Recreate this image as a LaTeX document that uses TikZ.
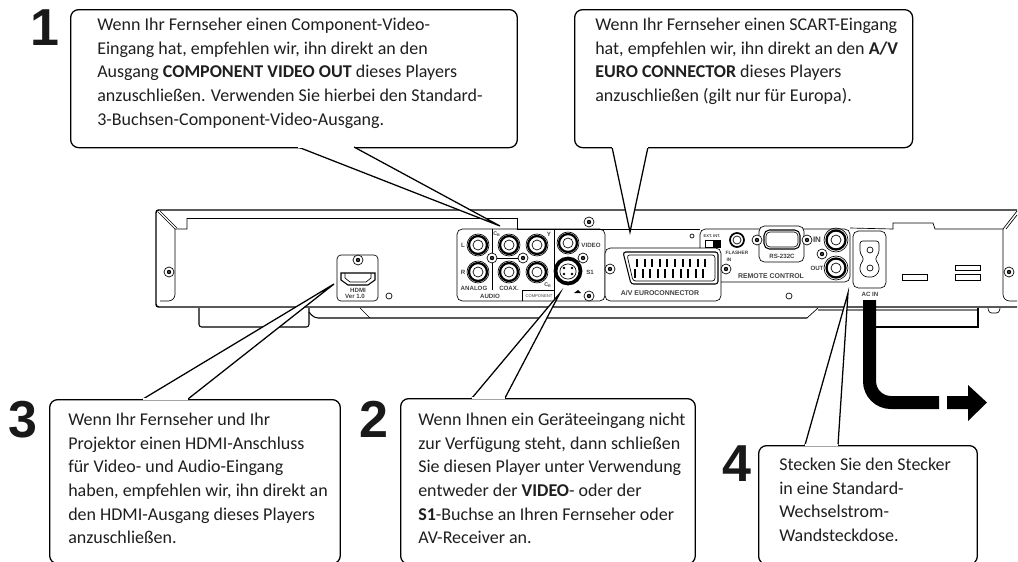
\documentclass[tikz,border=0pt]{standalone}
\usepackage{fontspec}
\setmainfont{Carlito}
\newfontfamily\arialfont{Liberation Sans}
\usepackage{tikz}
\usetikzlibrary{positioning}

\tikzset{
    msgbox/.style={draw, fill=white, line width=0.95pt, rounded corners=6pt, anchor=north west, inner sep=0pt},
    msgtext/.style={anchor=north west, align=left, inner sep=0pt, text=black!88, font=\fontsize{13.5}{17.7}\selectfont},
    stepno/.style={inner sep=0pt, text=black!90, font=\arialfont\bfseries\fontsize{39}{39}\selectfont},
    pointer/.style={draw, fill=white, line width=0.95pt, line join=miter},
    tinylabel/.style={inner sep=0pt, text=black!75, font=\arialfont\bfseries\fontsize{4.6}{5}\selectfont},
    chassis/.style={line width=0.8pt},
    thinline/.style={line width=0.5pt}
}

\begin{document}
\begin{tikzpicture}[x=0.75pt, y=-0.75pt]
    \useasboundingbox (0,0) rectangle (1018,561);

    % Chassis outline
    \draw[chassis, line width=1.1pt, rounded corners=2pt] (1017,210) -- (156,210) -- (156,307) -- (1017,307);
    \draw[thinline] (187,218) -- (517,218) -- (517,229) -- (700,229);
    \draw[thinline] (187,218) -- (187,229) -- (175,229) -- (158,212);
    \draw[thinline] (160,211) -- (177,228);
    \draw[thinline, rounded corners=5pt] (175,229) -- (175,301) -- (160,301);
    \draw[thinline] (850,228) -- (893,229) -- (893,223) -- (933,223) -- (935,229) -- (1003,229) -- (1017,211);
    \draw[thinline] (1006,229) -- (1017,215);
    \draw[thinline, rounded corners=5pt] (1003,229) -- (1003,301) -- (1017,301);

    % Stand and bottom rail
    \draw[chassis, rounded corners=2pt] (199,308) -- (199,327) -- (309,327) -- (309,308);
    \draw[chassis, rounded corners=3pt] (309,312) -- (314,318) -- (807,318);
    \draw[thinline] (360,308) -- (370,318);
    \draw[thinline] (807,318) -- (818,308);
    \draw[chassis] (876,327) -- (978,327) -- (978,308);
    \draw[black!50, line width=1.2pt] (818,310) -- (977,310);
    \draw[thinline, rounded corners=2pt] (988,308) -- (989,313) -- (999,313) -- (1000,308);

    % HDMI panel
    \draw[thinline, rounded corners=3pt] (337,255) rectangle (378,301);
    \draw[chassis, fill=white] (341,273) -- (375,273) -- (375,280) -- (368,285) -- (348,285) -- (341,280) -- cycle;
    \draw[thinline] (345,273) -- (345,278) -- (350,282) -- (366,282) -- (371,278) -- (371,273);
    \node[tinylabel] (hdmilabel) at (358,290) {HDMI};
    \node[tinylabel] (verlabel) at (355,296) {Ver 1.0};
    \draw[thinline] (389,296) circle[radius=3];

    % Audio, component and video panel
    \draw[thinline, rounded corners=4pt] (457,229) rectangle (605,301);
    \draw[thinline] (492,229) -- (492,290);
    \draw[thinline] (554,229) -- (554,301);
    \draw[thinline] (522,301) -- (522,290) -- (554,290);
    \draw[thinline] (492,258) -- (523,258);
    \foreach \jx/\jy in {478/245, 478/272, 509/245, 537/245, 509/272, 537/272, 568/243} {
        \draw[thinline] (\jx,\jy) circle[radius=11];
        \draw[line width=1.7pt] (\jx,\jy) circle[radius=9];
        \draw[thinline] (\jx,\jy) circle[radius=5];
    }
    \draw[line width=2.8pt] (568,271) circle[radius=12.5];
    \draw[thinline, rounded corners=2pt] (560,268) -- (565,264) -- (571,264) -- (576,268) -- (576,275) -- (571,279) -- (565,279) -- (560,275) -- cycle;
    \foreach \px/\py in {564/268, 572/268, 564/274, 572/274} {
        \fill (\px,\py) circle[radius=1.3];
    }
    \fill (578,290) -- (574,293) -- (581,293) -- cycle;
    \node[tinylabel] (llabel) at (463,245) {L};
    \node[tinylabel] (rlabel) at (463,272) {R};
    \node[tinylabel, font=\arialfont\bfseries\fontsize{4}{4}\selectfont] (cblabel) at (497,234) {C\textsubscript{B}};
    \node[tinylabel] (ylabel) at (549,234) {Y};
    \node[tinylabel, font=\arialfont\bfseries\fontsize{4}{4}\selectfont] (crlabel) at (548,285) {C\textsubscript{R}};
    \node[tinylabel] (analoglabel) at (474,288) {ANALOG};
    \node[tinylabel] (coaxlabel) at (509,288) {COAX.};
    \node[tinylabel] (audiolabel) at (490,296) {AUDIO};
    \node[tinylabel, font=\arialfont\fontsize{3.1}{3.5}\selectfont] (complabel) at (539,296) {COMPONENT};
    \node[tinylabel] (videolabel) at (591,245) {VIDEO};
    \node[tinylabel] (sonelabel) at (590,272) {S1};

    % Euroconnector panel
    \draw[thinline, fill=white, rounded corners=4pt] (605,248) rectangle (721,301);
    \draw[chassis, rounded corners=2pt] (623,252) -- (718,252) -- (718,284) -- (631,284) -- cycle;
    \draw[thinline, rounded corners=2pt] (627,255) -- (715,255) -- (715,281) -- (633,281) -- cycle;
    \foreach \px in {0,...,9} {
        \fill ({636+\px*7.6},259) rectangle ({638+\px*7.6},267);
        \fill ({634+\px*7.6},269) rectangle ({636+\px*7.6},278);
    }
    \node[tinylabel, font=\arialfont\bfseries\fontsize{5.2}{6}\selectfont] (eurolabel) at (660,293) {A/V EUROCONNECTOR};
    \draw[thinline] (692,236) circle[radius=2];

    % Remote panel
    \draw[thinline, rounded corners=4pt] (700,248) -- (700,229) -- (850,229) -- (850,282) -- (721,282);
    \draw[thinline] (705,240) rectangle (720,247);
    \fill (713,240) rectangle (720,247);
    \node[tinylabel, font=\arialfont\bfseries\fontsize{3}{3.5}\selectfont] (extlabel) at (712,236) {EXT. INT.};
    \draw[line width=1.3pt] (737,240) circle[radius=7];
    \draw[thinline] (737,240) circle[radius=4];
    \node[tinylabel, font=\arialfont\bfseries\fontsize{3.6}{4.5}\selectfont] (flashlabel) at (737,253) {FLASHER};
    \node[tinylabel, font=\arialfont\bfseries\fontsize{3.6}{4.5}\selectfont] (inlabel) at (729,260) {IN};
    \draw[thinline, fill=white, rounded corners=4pt] (759,226) rectangle (804,262);
    \draw[chassis, rounded corners=4pt] (764,230) rectangle (800,249);
    \draw[thinline, rounded corners=3pt] (766,232) rectangle (798,247);
    \node[tinylabel] (rslabel) at (782,256) {RS-232C};
    \node[tinylabel, font=\arialfont\bfseries\fontsize{6}{6}\selectfont] (remotein) at (817,240) {IN};
    \node[tinylabel] (remoteout) at (817,268) {OUT};
    \node[tinylabel, font=\arialfont\bfseries\fontsize{5.2}{6}\selectfont] (remotelabel) at (771,276) {REMOTE CONTROL};
    \foreach \jx/\jy in {836/240, 836/268} {
        \draw[thinline] (\jx,\jy) circle[radius=12];
        \draw[line width=1.7pt] (\jx,\jy) circle[radius=9.5];
        \draw[thinline] (\jx,\jy) circle[radius=5];
    }
    \draw[thinline] (789,296) circle[radius=3];

    % AC inlet panel
    \draw[thinline, rounded corners=4pt] (853,231) rectangle (886,288);
    \draw[thinline, rounded corners=2pt] (860,241) -- (879,241) -- (879,253) -- (875,259) -- (879,265) -- (879,272) -- (874,277) -- (865,277) -- (860,272) -- (860,265) -- (864,259) -- (860,253) -- cycle;
    \draw[thinline] (870,250) circle[radius=3];
    \draw[thinline] (870,268) circle[radius=3];
    \node[tinylabel] (aclabel) at (870,294) {AC IN};

    % Slots
    \draw[thinline] (902,274) rectangle (927,280);
    \draw[thinline] (955,265) rectangle (980,270);
    \draw[thinline] (955,274) rectangle (980,280);

    % Screws
    \foreach \sx/\sy in {169/272, 358/260, 492/258, 523/258, 583/258, 589/222, 589/296, 610/269, 726/269, 757/240, 807/240, 822/254, 1009/272} {
        \draw[thinline, fill=white] (\sx,\sy) circle[radius=5];
        \fill (\sx,\sy) circle[radius=2.2];
        \fill[white] (\sx,\sy) circle[radius=0.7];
    }

    % Power arrow
    \draw[line width=9.75pt, rounded corners=16pt] (869.5,300) -- (869.5,402.5) -- (939,402.5);
    \fill (947,396) -- (968,396) -- (968,385) -- (987,402.5) -- (968,421) -- (968,409) -- (947,409) -- cycle;

    % Callout 1
    \node[msgbox, minimum width=335pt, minimum height=103.5pt] (boxA) at (70,9) {};
    \node[msgtext] (textA) at (97,18) {Wenn Ihr Fernseher einen Component-Video-\\Eingang hat, empfehlen wir, ihn direkt an den\\Ausgang \textbf{COMPONENT VIDEO OUT} dieses Players\\anzuschließen. Verwenden Sie hierbei den Standard-\\3-Buchsen-Component-Video-Ausgang.};
    \coordinate (tipA) at (500,226);
    \coordinate (baseAl) at (298,147);
    \coordinate (baseAr) at (354,147);
    \draw[pointer] (baseAl) -- (tipA) -- (baseAr);
    \draw[white, line width=1.5pt] (baseAl) -- (baseAr);
    \node[stepno] (numA) at (45,28) {1};

    % Callout 2 (SCART)
    \node[msgbox, minimum width=253.5pt, minimum height=103.5pt] (boxB) at (574,9) {};
    \node[msgtext] (textB) at (595,18) {Wenn Ihr Fernseher einen SCART-Eingang\\hat, empfehlen wir, ihn direkt an den \textbf{A/V}\\\textbf{EURO CONNECTOR} dieses Players\\anzuschließen (gilt nur für Europa).};
    \coordinate (tipB) at (630,232);
    \coordinate (baseBl) at (612,147);
    \coordinate (baseBr) at (648,147);
    \draw[pointer] (baseBl) -- (tipB) -- (baseBr);
    \draw[white, line width=1.5pt] (baseBl) -- (baseBr);

    % Callout 3 (HDMI)
    \node[msgbox, minimum width=218pt, minimum height=123pt] (boxC) at (49,399) {};
    \node[msgtext] (textC) at (68,413) {Wenn Ihr Fernseher und Ihr\\Projektor einen HDMI-Anschluss\\für Video- und Audio-Eingang\\haben, empfehlen wir, ihn direkt an\\den HDMI-Ausgang dieses Players\\anzuschließen.};
    \coordinate (tipC) at (334,284);
    \coordinate (baseCl) at (143,399);
    \coordinate (baseCr) at (188,399);
    \draw[pointer] (baseCl) -- (tipC) -- (baseCr);
    \draw[white, line width=1.5pt] (baseCl) -- (baseCr);
    \node[stepno] (numC) at (22.5,419.5) {3};

    % Callout 4 (video)
    \node[msgbox, minimum width=221pt, minimum height=124pt] (boxD) at (400,398) {};
    \node[msgtext] (textD) at (418,413) {Wenn Ihnen ein Geräteeingang nicht\\zur Verfügung steht, dann schließen\\Sie diesen Player unter Verwendung\\entweder der \textbf{VIDEO}- oder der\\\textbf{S1}-Buchse an Ihren Fernseher oder\\AV-Receiver an.};
    \coordinate (tipD) at (560,293);
    \coordinate (baseDl) at (472,398);
    \coordinate (baseDr) at (505,398);
    \draw[pointer] (baseDl) -- (tipD) -- (baseDr);
    \draw[white, line width=1.5pt] (baseDl) -- (baseDr);
    \node[stepno] (numD) at (373.5,419) {2};

    % Callout 5 (power)
    \node[msgbox, minimum width=164pt, minimum height=89pt] (boxE) at (758,445) {};
    \node[msgtext] (textE) at (779,458) {Stecken Sie den Stecker\\in eine Standard-\\Wechselstrom-\\Wandsteckdose.};
    \coordinate (tipE) at (848,293);
    \coordinate (baseEl) at (805,445);
    \coordinate (baseEr) at (838,445);
    \draw[pointer] (baseEl) -- (tipE) -- (baseEr);
    \draw[white, line width=1.5pt] (baseEl) -- (baseEr);
    \node[stepno] (numE) at (736.5,464) {4};
\end{tikzpicture}
\end{document}
